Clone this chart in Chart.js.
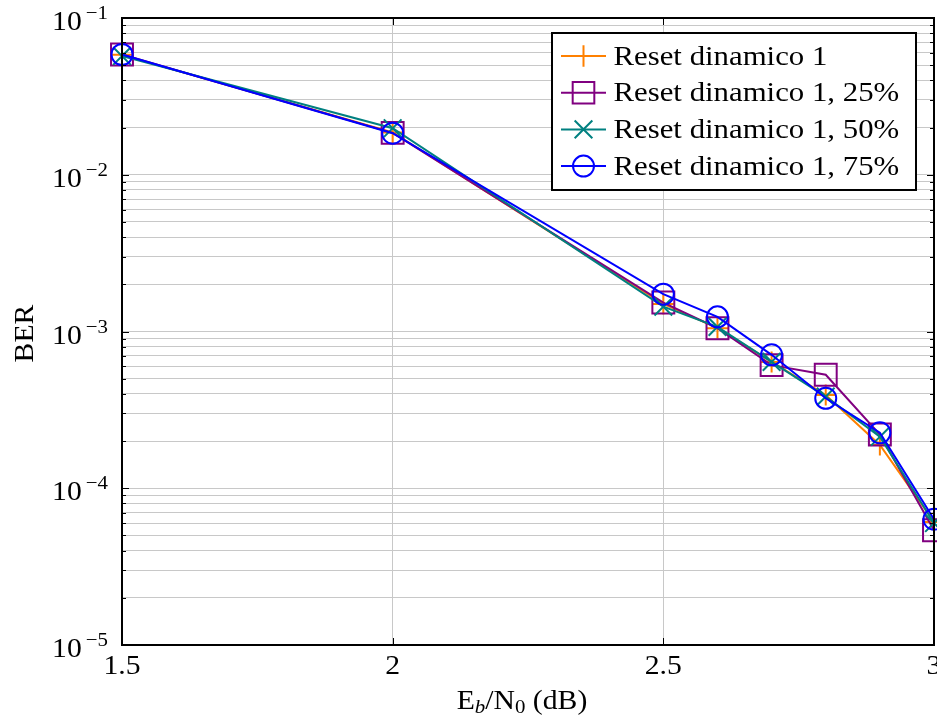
<!DOCTYPE html>
<html>
<head>
<meta charset="utf-8">
<script src="https://cdn.jsdelivr.net/npm/chart.js@4.4.1/dist/chart.umd.min.js"></script>
<style>
  html, body { margin: 0; padding: 0; background: #fff; }
  #wrap { width: 937px; height: 724px; }
</style>
</head>
<body>
<div id="wrap"><canvas id="berChart" width="937" height="724"></canvas></div>
<script>
// Eb/N0 values (dB)
const ebn0 = [1.5, 2, 2.5, 2.6, 2.7, 2.8, 2.9, 3];

// BER
const reset1   = [0.0582, 0.0186, 1.50e-3, 1.05e-3, 6.4e-4, 3.93e-4, 1.89e-4, 6.1e-5];
const reset25  = [0.0585, 0.0185, 1.53e-3, 1.05e-3, 6.1e-4, 5.3e-4, 2.2e-4, 5.4e-5];
const reset50  = [0.0572, 0.0198, 1.44e-3, 1.07e-3, 6.4e-4, 3.84e-4, 2.13e-4, 6.0e-5];
const reset75  = [0.0585, 0.0184, 1.73e-3, 1.24e-3, 7.1e-4, 3.75e-4, 2.26e-4, 6.35e-5];

const seriesNames = ['Reset dinamico 1', 'Reset dinamico 1, 25%', 'Reset dinamico 1, 50%', 'Reset dinamico 1, 75%'];
const xTicks = [1.5, 2, 2.5, 3];
const yExponents = [-5, -4, -3, -2, -1];

const SERIF = '"Liberation Serif", "DejaVu Serif", serif';
const STRETCH = 1.1; // Times is narrower than the Computer Modern of the original

function toPoints(ys) {
    return ebn0.map((x, i) => ({ x: x, y: ys[i] }));
}

function makeDataset(label, ys, color, style, radius, order) {
    return {
        label: label,
        data: toPoints(ys),
        borderColor: color,
        backgroundColor: 'rgba(0,0,0,0)',
        borderWidth: 2,
        pointStyle: style,
        pointRadius: radius,
        pointBorderColor: color,
        pointBackgroundColor: 'rgba(0,0,0,0)',
        pointBorderWidth: 2,
        clip: false,
        tension: 0,
        order: order
    };
}

// later series drawn on top, like the original
const datasets = [
    makeDataset(seriesNames[0], reset1, '#ff8000', 'cross', 10.5, 3),
    makeDataset(seriesNames[1], reset25, '#800080', 'rect', 15.5, 2),
    makeDataset(seriesNames[2], reset50, '#008080', 'crossRot', 12.5, 1),
    makeDataset(seriesNames[3], reset75, '#0000ff', 'circle', 10.5, 0)
];

// text drawn a bit wider; returns drawn width
function drawText(ctx, text, x, y, size, align, style) {
    ctx.font = (style ? style + ' ' : '') + size + 'px ' + SERIF;
    const w = ctx.measureText(text).width * STRETCH;
    let left = x;
    if (align === 'center') left = x - w / 2;
    else if (align === 'right') left = x - w;
    ctx.save();
    ctx.textAlign = 'left';
    ctx.translate(left, y);
    ctx.scale(STRETCH, 1);
    ctx.fillText(text, 0, 0);
    ctx.restore();
    return w;
}

function textWidth(ctx, text, size, style) {
    ctx.font = (style ? style + ' ' : '') + size + 'px ' + SERIF;
    return ctx.measureText(text).width * STRETCH;
}

// draws frame, inner ticks, tick labels, axis titles and the legend box
const decorations = {
    id: 'decorations',
    afterDraw(chart) {
        const ctx = chart.ctx;
        const a = chart.chartArea;
        const xs = chart.scales.x;
        const ys = chart.scales.y;
        ctx.save();

        // inner tick marks
        ctx.strokeStyle = '#000';
        ctx.lineWidth = 1;
        ys.ticks.forEach(t => {
            const py = Math.round(ys.getPixelForValue(t.value)) + 0.5;
            const lg = Math.log10(t.value);
            const len = Math.abs(lg - Math.round(lg)) < 1e-6 ? 7 : 4;
            ctx.beginPath();
            ctx.moveTo(a.left, py); ctx.lineTo(a.left + len, py);
            ctx.moveTo(a.right, py); ctx.lineTo(a.right - len, py);
            ctx.stroke();
        });
        xTicks.forEach(v => {
            const px = Math.round(xs.getPixelForValue(v)) + 0.5;
            ctx.beginPath();
            ctx.moveTo(px, a.bottom); ctx.lineTo(px, a.bottom - 7);
            ctx.moveTo(px, a.top); ctx.lineTo(px, a.top + 7);
            ctx.stroke();
        });

        // frame
        ctx.lineWidth = 2;
        ctx.strokeRect(a.left, a.top, a.right - a.left, a.bottom - a.top);

        // y tick labels 10^e
        ctx.fillStyle = '#000';
        ctx.textBaseline = 'alphabetic';
        yExponents.forEach(e => {
            const py = ys.getPixelForValue(Math.pow(10, e));
            const expText = '\u2212' + Math.abs(e);
            const ew = drawText(ctx, expText, a.left - 14, py + 1, 19, 'right');
            drawText(ctx, '10', a.left - 18 - ew, py + 12, 27, 'right');
        });

        // x tick labels
        xTicks.forEach(v => {
            drawText(ctx, String(v), xs.getPixelForValue(v), a.bottom + 29, 27, 'center');
        });

        // x title: E_b/N_0 (dB)
        const parts = [
            ['E', 27, 0, ''], ['b', 19, 4, 'italic'], ['/N', 27, 0, ''], ['0', 19, 4, ''], [' (dB)', 27, 0, '']
        ];
        let total = 0;
        parts.forEach(p => { total += textWidth(ctx, p[0], p[1], p[3]); });
        let cx = 522 - total / 2;
        parts.forEach(p => {
            cx += drawText(ctx, p[0], cx, 709 + p[2], p[1], 'left', p[3]);
        });

        // y title
        ctx.save();
        ctx.translate(33, (a.top + a.bottom) / 2 + 2);
        ctx.rotate(-Math.PI / 2);
        drawText(ctx, 'BER', 0, 0, 27, 'center');
        ctx.restore();

        // legend
        const lx = 552, ly = 33, lw = 364, lh = 157;
        ctx.fillStyle = '#fff';
        ctx.fillRect(lx, ly, lw, lh);
        ctx.lineWidth = 2;
        ctx.strokeStyle = '#000';
        ctx.strokeRect(lx, ly, lw, lh);
        chart.data.datasets.forEach((ds, i) => {
            const ry = 56 + i * 36.7;
            ctx.strokeStyle = ds.borderColor;
            ctx.lineWidth = ds.borderWidth;
            ctx.beginPath();
            ctx.moveTo(561, ry); ctx.lineTo(606, ry);
            ctx.stroke();
            ctx.fillStyle = 'rgba(0,0,0,0)';
            const r = ds.pointStyle === 'rect' ? 15.3 : (ds.pointStyle === 'cross' ? 10.8 : ds.pointRadius);
            Chart.helpers.drawPoint(ctx, {
                pointStyle: ds.pointStyle,
                radius: r,
                rotation: 0,
                borderWidth: ds.pointBorderWidth
            }, 583.5, ry);
            ctx.fillStyle = '#000';
            drawText(ctx, ds.label, 613.5, ry + 8.5, 28, 'left');
        });

        ctx.restore();
    }
};

const ctx = document.getElementById('berChart').getContext('2d');
new Chart(ctx, {
    type: 'line',
    data: { datasets: datasets },
    options: {
        responsive: false,
        animation: false,
        layout: { autoPadding: false, padding: { left: 122, right: 3, top: 18, bottom: 79 } },
        plugins: {
            legend: { display: false },
            tooltip: { enabled: false }
        },
        scales: {
            x: {
                type: 'linear',
                min: 1.5,
                max: 3,
                afterBuildTicks: s => { s.ticks = xTicks.map(v => ({ value: v })); },
                ticks: { display: false },
                grid: { color: '#c8c8c8', lineWidth: 1, drawTicks: false },
                border: { display: false }
            },
            y: {
                type: 'logarithmic',
                min: 1e-5,
                max: 1e-1,
                afterBuildTicks: s => {
                    const t = [];
                    for (let e = -5; e <= -2; e++) {
                        for (let m = 1; m <= 9; m++) t.push({ value: m * Math.pow(10, e) });
                    }
                    t.push({ value: 0.1 });
                    s.ticks = t;
                },
                ticks: { display: false },
                grid: { color: '#c8c8c8', lineWidth: 1, drawTicks: false },
                border: { display: false }
            }
        }
    },
    plugins: [decorations]
});
</script>
</body>
</html>
